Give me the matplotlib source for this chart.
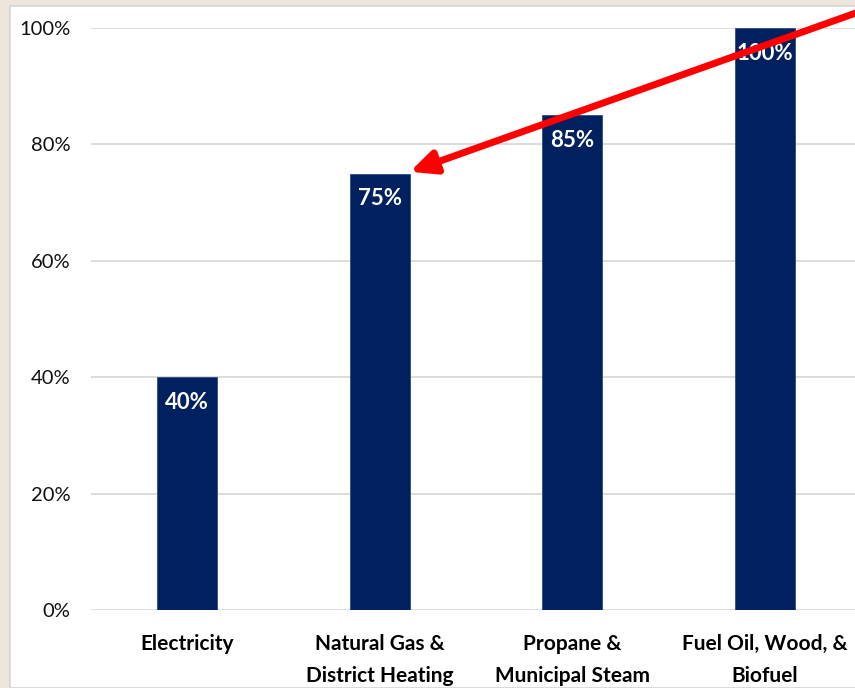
import matplotlib
matplotlib.use("Agg")
import matplotlib.pyplot as plt
from matplotlib.patches import Rectangle

categories = ["Electricity", "Natural Gas &\nDistrict Heating",
              "Propane &\nMunicipal Steam", "Fuel Oil, Wood, &\nBiofuel"]
values = [40, 75, 85, 100]
y_ticks = [0, 20, 40, 60, 80, 100]
y_tick_labels = ["0%", "20%", "40%", "60%", "80%", "100%"]

plt.rcParams["font.family"] = ["Lato", "DejaVu Sans"]

W, H = 855, 688
fig = plt.figure(figsize=(W / 100, H / 100), dpi=100)
fig.patch.set_facecolor("#EEE6DA")

# white panel behind the chart
panel = Rectangle((10 / W, 0), 1 - 10 / W + 0.01, 1 - 6 / H,
                  transform=fig.transFigure, facecolor="white",
                  edgecolor="#D4D4D4", linewidth=1.2, zorder=-5)
fig.patches.append(panel)

ax = fig.add_axes([91 / W, 78 / H, (W - 91) / W, (610 - 28) / H])
ax.set_facecolor("none")

x = list(range(len(categories)))
ax.bar(x, values, width=0.31, color="#002060", edgecolor="#2E4A7E",
       linewidth=0.6, zorder=3)

for xi, v in zip(x, values):
    ax.annotate(f"{v}%", xy=(xi, v), xytext=(0, -18),
                textcoords="offset points", ha="center", va="center",
                color="white", fontsize=16, fontweight="bold", zorder=4)

ax.set_xlim(-0.5, 3.5 - 6 / 192.5)
ax.set_ylim(0, 100)
ax.set_yticks(y_ticks)
ax.set_yticklabels(y_tick_labels, fontsize=14.5, color="#111111")
ax.set_xticks(x)
ax.set_xticklabels(categories, fontsize=15, fontweight="bold",
                   color="#000000", linespacing=1.75)
ax.tick_params(axis="both", length=0)
ax.tick_params(axis="y", pad=15)
ax.tick_params(axis="x", pad=17)
for s in ax.spines.values():
    s.set_visible(False)
ax.yaxis.grid(True, color="#D9D9D9", linewidth=1.3, zorder=0)
ax.set_axisbelow(True)

# red arrow pointing at the natural gas bar
ax.annotate("", xy=(1.157, 75.3), xytext=(3.56, 103.6),
            xycoords="data", textcoords="data", annotation_clip=False,
            arrowprops=dict(arrowstyle="-|>,head_length=0.75,head_width=0.35",
                            mutation_scale=20, color="#FF0000", lw=5,
                            shrinkA=0, shrinkB=0, clip_on=False),
            zorder=6)

fig.savefig("out.png", dpi=100, facecolor=fig.get_facecolor())
